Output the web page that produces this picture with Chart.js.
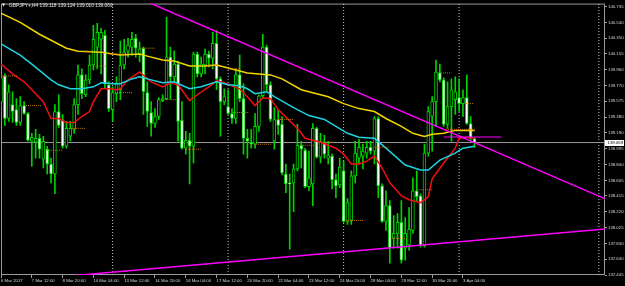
<!DOCTYPE html>
<html>
<head>
<meta charset="utf-8">
<script src="https://cdn.jsdelivr.net/npm/chart.js@4.4.1/dist/chart.umd.min.js"></script>
<style>
html, body { margin: 0; padding: 0; background: #000; }
#wrap { position: relative; width: 625px; height: 286px; overflow: hidden; }
#title { position: absolute; left: 9px; top: 2px; color: #e6e6e6; font: 6px/6px 'Liberation Sans', Arial, sans-serif; transform: scaleX(0.8); transform-origin: 0 0; white-space: nowrap; }
#tri { position: absolute; left: 2px; top: 2px; color: #e6e6e6; font: 4px/6px 'DejaVu Sans', sans-serif; }
</style>
</head>
<body>
<div id="wrap">
  <canvas id="chart" width="625" height="286"></canvas>
  <div id="tri">▼</div>
  <div id="title">GBPJPY+,H4 139.118 139.124 139.010 139.069</div>
</div>
<script>
// H4 candles, bar 0 = 6 Mar 2017
const opens = [139.570,139.886,139.364,139.534,139.473,139.316,139.522,139.425,139.085,139.073,
  139.121,138.866,138.988,138.806,138.684,139.449,139.352,139.024,139.146,139.231,
  139.534,139.898,139.655,139.837,140.019,140.238,140.335,140.384,139.777,139.473,
  139.667,139.716,140.019,140.189,140.238,140.347,140.153,140.226,139.680,139.437,
  139.303,139.388,139.583,139.607,140.116,139.874,140.032,139.340,139.000,139.097,
  139.024,140.153,139.910,140.019,140.153,140.104,140.286,139.849,139.570,139.510,
  139.425,139.364,139.898,139.607,139.121,139.073,139.049,139.267,139.643,140.238,
  139.777,139.085,139.352,139.291,138.684,138.575,138.575,138.745,139.036,138.976,
  138.527,138.563,139.243,138.891,139.061,138.879,138.903,138.612,138.551,138.721,
  138.102,138.114,138.660,138.879,138.903,138.939,139.012,138.964,139.364,138.539,
  138.102,138.296,137.896,137.956,138.090,137.774,137.811,137.993,138.478,138.417,
  137.811,138.939,139.388,139.570,139.922,139.837,139.291,139.510,139.595,139.619,
  139.546,139.619,139.303,139.118];
const highs = [139.910,139.910,139.777,139.692,139.607,139.631,139.570,139.437,139.182,139.231,
  139.170,139.146,139.024,138.879,139.534,139.655,139.413,139.328,139.328,139.607,
  140.019,139.971,139.898,140.141,140.505,140.529,140.468,140.444,139.813,139.752,
  139.874,140.311,140.335,140.347,140.420,140.396,140.299,140.238,139.813,139.570,
  139.485,139.619,139.655,140.602,140.238,140.189,140.068,139.570,139.206,139.182,
  140.177,140.177,140.116,140.214,140.189,140.420,140.444,139.874,139.728,139.716,
  139.485,139.971,140.141,139.789,139.231,139.231,139.425,139.655,140.396,140.262,
  139.813,139.498,139.473,139.388,138.806,138.684,138.806,139.291,139.085,139.000,
  138.964,139.303,139.255,139.182,139.158,139.085,138.927,138.684,138.879,138.842,
  138.381,138.721,139.085,139.109,139.049,139.085,139.085,139.388,139.388,138.563,
  138.478,138.357,138.175,138.199,138.357,138.150,138.272,138.636,138.721,138.442,
  139.049,139.510,139.631,140.080,140.032,139.862,139.813,139.849,139.874,139.849,
  139.716,139.898,139.388,139.124];
const lows = [139.522,139.279,139.328,139.316,139.279,139.279,139.413,139.085,138.781,138.879,
  138.879,138.757,138.684,138.575,138.442,139.255,139.000,139.000,139.085,139.182,
  139.413,139.607,139.631,139.789,139.959,139.971,139.910,139.728,139.449,139.328,
  139.570,139.595,139.971,140.116,140.141,140.116,140.056,139.413,139.267,139.146,
  139.255,139.352,139.570,139.595,139.607,139.813,139.085,138.988,138.927,138.563,
  138.818,139.874,139.874,139.910,139.995,139.971,139.716,139.146,139.534,139.413,
  139.303,139.303,139.570,138.927,138.879,139.000,139.000,139.206,139.607,139.692,
  139.328,138.988,139.170,138.672,138.454,137.762,138.223,138.721,138.757,138.515,
  138.478,138.296,138.879,138.818,138.879,138.806,138.502,138.393,138.515,138.090,
  138.065,138.065,138.575,138.806,138.745,138.879,138.927,138.806,138.393,138.090,
  137.993,137.592,137.774,137.774,137.592,137.629,137.750,137.956,138.357,137.786,
  137.786,138.903,138.964,139.267,139.813,139.267,139.243,139.085,139.413,139.449,
  139.388,139.291,139.085,139.010];
const closes = [139.862,139.364,139.692,139.449,139.316,139.522,139.425,139.097,139.134,139.121,
  138.988,139.085,138.806,138.684,139.449,139.279,139.024,139.243,139.243,139.534,
  139.898,139.667,139.837,140.019,140.335,140.420,140.420,139.789,139.485,139.680,
  139.789,140.019,140.177,140.262,140.335,140.226,140.214,139.692,139.449,139.303,
  139.388,139.595,139.607,140.116,139.874,140.032,139.328,139.000,139.097,139.024,
  140.153,139.910,140.032,140.153,140.104,140.286,139.849,139.570,139.631,139.425,
  139.364,139.898,139.607,139.121,139.085,139.049,139.267,139.643,140.238,139.777,
  139.352,139.352,139.279,138.697,138.563,138.563,138.745,139.036,138.988,138.527,
  138.636,139.243,138.891,139.085,138.927,138.915,138.612,138.539,138.769,138.102,
  138.333,138.660,138.939,139.012,138.964,139.012,138.964,139.364,138.539,138.102,
  138.296,137.774,137.956,138.090,137.629,137.956,138.005,138.478,138.405,137.811,
  138.939,139.449,139.570,139.934,139.837,139.291,139.510,139.716,139.692,139.546,
  139.619,139.303,139.121,139.069];

// moving averages (bar index, price)
const yellowBars = [0,5,10,13,17,20,26,29,31,36,38,42,45,49,53,56,60,64,70,73,78,82,85,89,93,97,100,104,107,110,112,115,118,120,123];
const yellowVals = [140.654,140.541,140.396,140.323,140.225,140.189,140.177,140.153,140.141,140.153,140.128,140.080,140.068,140.007,140.007,140.019,139.971,139.922,139.898,139.849,139.716,139.667,139.631,139.546,139.485,139.449,139.364,139.267,139.182,139.145,139.170,139.182,139.218,139.218,139.218];
const cyanBars = [0,5,8,13,15,18,21,24,26,29,31,34,36,39,42,45,49,52,56,59,62,64,66,69,71,76,80,84,87,90,93,97,100,105,109,111,114,118,120,123];
const cyanVals = [140.278,140.141,140.031,139.837,139.777,139.728,139.728,139.752,139.801,139.789,139.789,139.849,139.874,139.837,139.801,139.813,139.728,139.752,139.813,139.777,139.764,139.728,139.667,139.692,139.631,139.497,139.400,139.352,139.267,139.182,139.133,139.121,139.000,138.793,138.733,138.733,138.854,138.939,139.000,139.024];
const redBars = [0,3,6,8,11,13,15,17,19,21,23,24,26,28,30,31,33,36,39,42,44,46,49,51,54,56,58,60,62,64,66,68,70,72,77,79,83,87,89,91,93,95,97,99,101,104,106,109,111,112,115,118,119,121,123];
const redVals = [140.031,139.910,139.813,139.716,139.570,139.364,139.364,139.315,139.315,139.388,139.449,139.570,139.728,139.728,139.716,139.728,139.837,139.934,139.813,139.752,139.801,139.776,139.582,139.655,139.752,139.825,139.801,139.764,139.728,139.631,139.522,139.619,139.607,139.473,139.243,139.121,139.073,139.000,138.927,138.806,138.806,138.842,138.903,138.757,138.575,138.417,138.369,138.332,138.405,138.624,138.818,139.000,139.121,139.133,139.121];

// trend lines and objects
const trendDownBars = [35, 157];
const trendDownVals = [140.854, 138.378];
const trendUpBars = [10, 157];
const trendUpVals = [137.402, 138.010];
const hLineBars = [115, 130];
const hLineVals = [139.137, 139.137];
const levelFrom = [0.3,6.5,12,18.4,21.3,24,28.3,29.6,36,42,48,53.2,59,60.3,65.7,72,78,84,89.6,97,101.6,108,114.3,115.6,120.8];
const levelTo = [4.2,10.6,16,22,25.2,27.3,32.2,34.3,40,45.5,52,56.4,62,64.2,70.1,76,82.3,86.5,94.3,100.8,105.5,112,117,123.4,122.9];
const levelPrice = [139.886,139.522,138.975,139.243,140.189,140.007,140.153,139.680,140.226,139.595,138.988,140.019,139.971,139.437,139.049,139.352,139.036,139.073,138.114,139.012,137.896,138.490,139.922,139.231,139.546];
const sepBars = [29, 59, 89, 119, 155.3];

// axes
const tickBars = [0,8,16,24,32,40,48,56,64,72,80,88,96,104,112,120];
const timeLabels = ['6 Mar 2017','7 Mar 12:00','8 Mar 20:00','10 Mar 04:00','13 Mar 12:00','14 Mar 20:00','16 Mar 04:00','17 Mar 12:00','20 Mar 20:00','22 Mar 04:00','23 Mar 12:00','24 Mar 20:00','28 Mar 04:00','29 Mar 12:00','30 Mar 20:00','3 Apr 04:00'];
const priceTicks = [140.735,140.540,140.350,140.155,139.960,139.770,139.575,139.380,139.190,138.995,138.800,138.605,138.415,138.220,138.025,137.830,137.640,137.445];

const Y_MIN = 137.446, Y_MAX = 140.772, X_MAX = 156.9;
const GREEN = '#00d200';
const AXIS_FONT = { family: "'Liberation Sans',Arial,sans-serif", size: 4.3 };

const bars = opens.map((_, i) => i);
const pts = (xs, ys) => xs.map((x, i) => ({ x: x, y: ys[i] }));
const line = (data, color, width, order, dash) => ({
    type: 'line', data: data, borderColor: color, borderWidth: width,
    borderDash: dash || [], pointRadius: 0, fill: false, tension: 0, order: order
});

const datasets = [
    { type: 'bar', data: bars.map(i => ({ x: i, y: [lows[i], highs[i]] })),
      backgroundColor: GREEN, barThickness: 1, grouped: false, order: 6 },
    { type: 'bar', data: bars.map(i => ({ x: i, y: [opens[i], closes[i]] })),
      backgroundColor: bars.map(i => closes[i] < opens[i] ? '#ffffff' : '#000000'),
      borderColor: GREEN, borderWidth: 1, borderSkipped: false,
      barThickness: 3, grouped: false, order: 5 },
    line(pts(yellowBars, yellowVals), '#f2d600', 1.5, 3),
    line(pts(cyanBars, cyanVals), '#1ed2e2', 1.5, 3),
    line(pts(redBars, redVals), '#f01010', 1.5, 3),
    line(pts(trendDownBars, trendDownVals), '#ff00ff', 1.5, 1),
    line(pts(trendUpBars, trendUpVals), '#ff00ff', 1.5, 1),
    line(pts(hLineBars, hLineVals), '#ff00ff', 1, 1),
    line([{ x: 0, y: closes[closes.length - 1] }, { x: X_MAX, y: closes[closes.length - 1] }], '#9a9a9a', 1, 8)
];
sepBars.forEach(s => datasets.push(line([{ x: s, y: Y_MIN }, { x: s, y: Y_MAX }], '#c8c8c8', 1, 9, [1, 2])));
levelFrom.forEach((f, k) => datasets.push(line([{ x: f, y: levelPrice[k] }, { x: levelTo[k], y: levelPrice[k] }], '#c8780a', 1, 2, [1, 1])));

const framePlugin = {
    id: 'frame',
    beforeDatasetsDraw(chart) {
        const { ctx, chartArea: a } = chart;
        ctx.save();
        ctx.strokeStyle = '#9a9a9a';
        ctx.lineWidth = 1;
        ctx.strokeRect(a.left + 0.5, a.top + 0.5, a.right - a.left - 1, a.bottom - a.top - 1);
        ctx.restore();
    }
};

const priceBox = {
    id: 'priceBox',
    afterDraw(chart) {
        const { ctx, chartArea: a } = chart;
        const last = closes[closes.length - 1];
        const y = chart.scales.y.getPixelForValue(last);
        ctx.save();
        ctx.fillStyle = '#ffffff';
        ctx.fillRect(a.right, Math.round(y) - 3, 19, 6);
        ctx.fillStyle = '#000000';
        ctx.font = AXIS_FONT.size + 'px ' + AXIS_FONT.family;
        ctx.textBaseline = 'middle';
        ctx.fillText(last.toFixed(3), a.right + 2.5, y);
        ctx.restore();
    }
};

new Chart(document.getElementById('chart'), {
    type: 'bar',
    data: { datasets: datasets },
    plugins: [framePlugin, priceBox],
    options: {
        responsive: false,
        animation: false,
        events: [],
        layout: { padding: { left: 1, top: 1, right: 0, bottom: 0 } },
        plugins: { legend: { display: false }, tooltip: { enabled: false } },
        scales: {
            x: {
                type: 'linear', min: 0, max: X_MAX, offset: false,
                grid: { display: true, offset: false, drawOnChartArea: false, drawTicks: true, tickLength: 3, color: '#9a9a9a' },
                border: { display: false },
                ticks: { align: 'start', padding: 0, color: '#d6d6d6', font: AXIS_FONT, maxRotation: 0, autoSkip: false,
                         callback: v => timeLabels[tickBars.indexOf(v)] },
                afterBuildTicks: s => { s.ticks = tickBars.map(v => ({ value: v })); },
                afterFit: s => { s.height = 11; }
            },
            y: {
                position: 'right', min: Y_MIN, max: Y_MAX,
                grid: { display: true, drawOnChartArea: false, drawTicks: true, tickLength: 2, color: '#9a9a9a' },
                border: { display: false },
                ticks: { padding: 1, color: '#d6d6d6', font: AXIS_FONT, autoSkip: false,
                         callback: v => v.toFixed(3) },
                afterBuildTicks: s => { s.ticks = priceTicks.map(v => ({ value: v })); },
                afterFit: s => { s.width = 20; }
            }
        }
    }
});
</script>
</body>
</html>
